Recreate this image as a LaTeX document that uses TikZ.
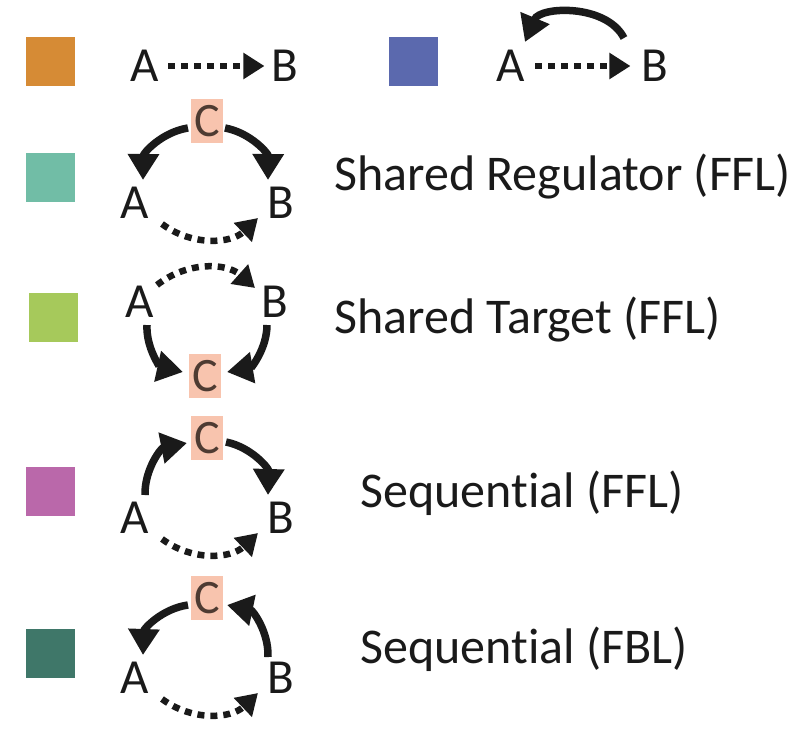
\documentclass[tikz,border=0pt]{standalone}
\usepackage{fontspec}
\setmainfont[Ligatures={NoCommon,NoContextual}, Contextuals=NoAlternate]{Carlito}
\usepackage{xcolor}
\usetikzlibrary{arrows.meta}

\definecolor{swOrange}{HTML}{D68B35}
\definecolor{swBlue}{HTML}{5B69AE}
\definecolor{swTeal}{HTML}{71BDA6}
\definecolor{swGreen}{HTML}{A6C95B}
\definecolor{swPink}{HTML}{BA68AA}
\definecolor{swDark}{HTML}{3F7769}
\definecolor{cfill}{HTML}{F8C4AE}
\definecolor{cletter}{HTML}{4E3B32}
\definecolor{ink}{HTML}{1A1A1A}

\tikzset{
	swatch/.style={minimum width=49pt, minimum height=49pt, inner sep=0pt},
	letter/.style={inner sep=0pt, text=ink, font=\fontsize{49}{59}\selectfont},
	cbox/.style={fill=cfill, text=cletter, minimum width=32pt, minimum height=44pt, inner sep=0pt, font=\fontsize{48}{58}\selectfont},
	motiftext/.style={inner sep=0pt, anchor=base west, text=ink, font=\fontsize{50}{60}\selectfont},
	solidarrow/.style={draw=ink, line width=7.5pt, -{Triangle[length=26pt, width=30pt]}},
	dotarrow/.style={draw=ink, line width=6.5pt, dash pattern=on 7pt off 6pt, -{Triangle[length=21pt, width=25pt]}}
}

\begin{document}
\begin{tikzpicture}[x=1pt, y=1pt]
	\useasboundingbox (0,0) rectangle (804,-745);

	% colour keys
	\node[swatch, fill=swOrange] (sq1) at (50.5,-61) {};
	\node[swatch, fill=swBlue] (sq1x) at (413,-61.5) {};
	\node[swatch, fill=swTeal] (sq2) at (50.5,-177) {};
	\node[swatch, fill=swGreen] (sq3) at (53,-317) {};
	\node[swatch, fill=swPink] (sq4) at (50.5,-491.5) {};
	\node[swatch, fill=swDark] (sq5) at (50.5,-653) {};

	% direct links
	\node[letter] (a1) at (145,-66) {A};
	\node[letter] (b1) at (285,-66) {B};
	\draw[dotarrow, shorten <=9pt, shorten >=7pt] (a1.east) -- (b1.west);

	\node[letter] (a1x) at (511,-66) {A};
	\node[letter] (b1x) at (655,-66) {B};
	\draw[dotarrow, shorten <=10pt, shorten >=11pt] (a1x.east) -- (b1x.west);
	\draw[solidarrow] ([shift={(-31,28)}]b1x.center) to[bend right=65] ([shift={(14,24)}]a1x.center);

	% shared regulator
	\node[cbox] (c2) at (207,-121) {C};
	\node[letter] (a2) at (135,-203) {A};
	\node[letter] (b2) at (281,-203) {B};
	\draw[solidarrow] ([shift={(-19,-7)}]c2.center) to[bend right=40] ([shift={(8,23)}]a2.center);
	\draw[solidarrow] ([shift={(18,-7)}]c2.center) to[bend left=40] ([shift={(-13,23)}]b2.center);
	\draw[dotarrow] ([shift={(27,-21)}]a2.center) to[bend right=40] ([shift={(-23,-15)}]b2.center);
	\node[motiftext] (t2) at (334,-190) {Shared Regulator (FFL)};

	% shared target
	\node[letter] (a3) at (140,-302) {A};
	\node[letter] (b3) at (275,-302) {B};
	\node[cbox] (c3) at (205,-376) {C};
	\draw[dotarrow] ([shift={(17,17)}]a3.center) to[bend left=40] ([shift={(-20,14)}]b3.center);
	\draw[solidarrow] ([shift={(7,-23)}]a3.center) to[bend right=40] ([shift={(-22,4)}]c3.center);
	\draw[solidarrow] ([shift={(-8,-23)}]b3.center) to[bend left=40] ([shift={(22,4)}]c3.center);
	\node[motiftext] (t3) at (334,-333) {Shared Target (FFL)};

	% sequential, feed-forward
	\node[cbox] (c4) at (207,-438) {C};
	\node[letter] (a4) at (135,-518) {A};
	\node[letter] (b4) at (281,-518) {B};
	\draw[solidarrow] ([shift={(10,23)}]a4.center) to[bend left=40] ([shift={(-20,-5)}]c4.center);
	\draw[solidarrow] ([shift={(19,-4)}]c4.center) to[bend left=40] ([shift={(-13,23)}]b4.center);
	\draw[dotarrow] ([shift={(27,-21)}]a4.center) to[bend right=40] ([shift={(-23,-15)}]b4.center);
	\node[motiftext] (t4) at (360,-507) {Sequential (FFL)};

	% sequential, feedback
	\node[cbox] (c5) at (207,-598) {C};
	\node[letter] (a5) at (135,-678) {A};
	\node[letter] (b5) at (281,-678) {B};
	\draw[solidarrow] ([shift={(-19,-7)}]c5.center) to[bend right=40] ([shift={(8,23)}]a5.center);
	\draw[solidarrow] ([shift={(-13,21)}]b5.center) to[bend right=40] ([shift={(20,-7)}]c5.center);
	\draw[dotarrow] ([shift={(27,-21)}]a5.center) to[bend right=40] ([shift={(-23,-15)}]b5.center);
	\node[motiftext] (t5) at (360,-663) {Sequential (FBL)};
\end{tikzpicture}
\end{document}
